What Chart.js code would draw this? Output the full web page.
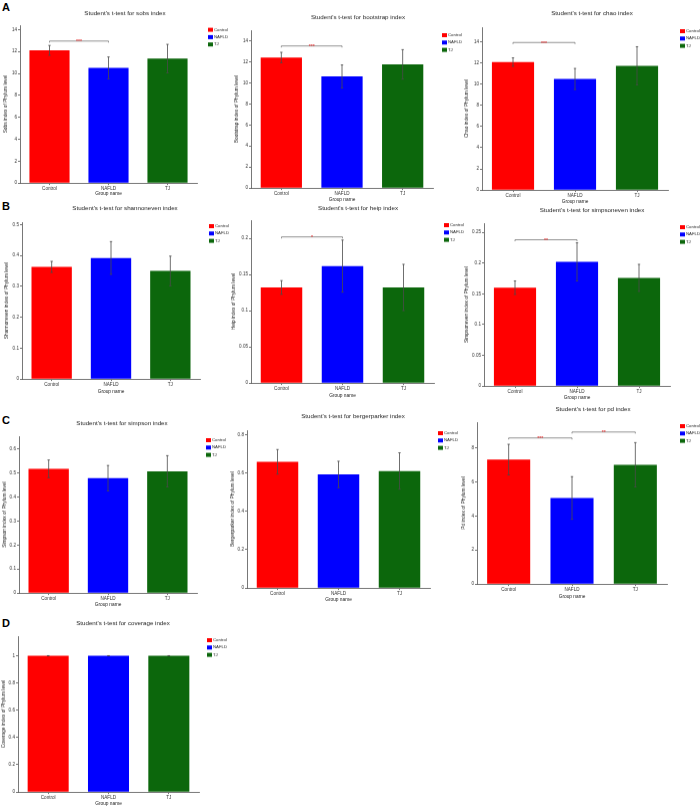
<!DOCTYPE html>
<html>
<head>
<meta charset="utf-8">
<script src="https://cdn.jsdelivr.net/npm/chart.js@4.4.1/dist/chart.umd.min.js"></script>
<style>
  body { margin: 0; background: #fff; width: 700px; height: 809px; position: relative; overflow: hidden;
         font-family: "Liberation Sans", Arial, sans-serif; }
  canvas { position: absolute; }
  .tag { position: absolute; font-weight: bold; font-size: 11px; line-height: 11px; color: #000; }
</style>
</head>
<body>
<div class="tag" style="left:2px;top:1.6px">A</div>
<div class="tag" style="left:2px;top:200.6px">B</div>
<div class="tag" style="left:2px;top:414.6px">C</div>
<div class="tag" style="left:2px;top:617.6px">D</div>
<script>
// alpha diversity, Student's t-test per index

const groups = ['Control', 'NAFLD', 'TJ'];
const indexNames = ['sobs', 'bootstrap', 'chao', 'shannoneven', 'heip',
                    'simpsoneven', 'simpson', 'bergerparker', 'pd', 'coverage'];
const yTitles = ['Sobs index of Phylum level', 'Bootstrap index of Phylum level',
                 'Chao index of Phylum level', 'Shannoneven index of Phylum level',
                 'Heip index of Phylum level', 'Simpsoneven index of Phylum level',
                 'Simpson index of Phylum level', 'Bergerparker index of Phylum level',
                 'Pd index of Phylum level', 'Coverage index of Phylum level'];

const controlMean = [12.1, 12.4, 12.1, 0.363, 0.132, 0.160, 0.517, 0.658, 7.3, 1.0];
const controlErr  = [0.45, 0.5, 0.4, 0.018, 0.0095, 0.011, 0.037, 0.064, 0.9, 0.0005];
const nafldMean   = [10.5, 10.6, 10.5, 0.392, 0.1615, 0.202, 0.478, 0.592, 5.05, 1.0];
const nafldErr    = [1.0, 1.1, 1.0, 0.053, 0.036, 0.031, 0.053, 0.069, 1.25, 0.0005];
const tjMean      = [11.35, 11.75, 11.75, 0.350, 0.132, 0.176, 0.507, 0.610, 7.0, 1.0];
const tjErr       = [1.3, 1.4, 1.8, 0.048, 0.032, 0.022, 0.065, 0.095, 1.3, 0.0005];

// y axis range and tick step
const yMax  = [14.4, 15.0, 15.4, 0.508, 0.225, 0.265, 0.653, 0.823, 9.5, 1.144];
const yStep = [2, 2, 2, 0.1, 0.05, 0.05, 0.1, 0.2, 2, 0.2];

// significance brackets
const sigIndex  = ['sobs', 'bootstrap', 'chao', 'heip', 'simpsoneven', 'pd', 'pd'];
const sigFrom   = [0, 0, 0, 0, 0, 0, 1];
const sigTo     = [1, 1, 1, 1, 1, 1, 2];
const sigHeight = [12.95, 13.5, 13.95, 0.2018, 0.238, 8.57, 8.92];
const sigStars  = ['***', '***', '***', '*', '**', '***', '**'];

const groupColors = ['#ff0000', '#0000ff', '#0c670c'];
const groupMeans = [controlMean, nafldMean, tjMean];
const groupErrs = [controlErr, nafldErr, tjErr];

// page layout of each panel (px)
const panelBoxes = [
  { L: 0,   T: 0,   axL: 20,  axT: 25,  axR: 197, axB: 183, titleX: 125, titleY: 13,  legX: 208, legY: 29.6, yTitleX: 6,   gap: 11 },
  { L: 230, T: 0,   axL: 251, axT: 30,  axR: 433, axB: 188, titleX: 358, titleY: 17,  legX: 442, legY: 35,   yTitleX: 237, gap: 12 },
  { L: 460, T: 0,   axL: 482, axT: 27,  axR: 668, axB: 190, titleX: 592, titleY: 13,  legX: 680, legY: 31,   yTitleX: 467, gap: 12 },
  { L: 0,   T: 200, axL: 22,  axT: 222, axR: 200, axB: 379, titleX: 125, titleY: 208, legX: 209, legY: 226,  yTitleX: 7,   gap: 13 },
  { L: 230, T: 200, axL: 251, axT: 220, axR: 434, axB: 383, titleX: 358, titleY: 208, legX: 444, legY: 225,  yTitleX: 234, gap: 13 },
  { L: 460, T: 200, axL: 484, axT: 223, axR: 670, axB: 386, titleX: 592, titleY: 210, legX: 680, legY: 227,  yTitleX: 467, gap: 12 },
  { L: 0,   T: 405, axL: 19,  axT: 436, axR: 197, axB: 593, titleX: 122, titleY: 423, legX: 206, legY: 440,  yTitleX: 5,   gap: 12 },
  { L: 230, T: 405, axL: 247, axT: 430, axR: 430, axB: 588, titleX: 353, titleY: 416, legX: 438, legY: 433,  yTitleX: 233, gap: 12 },
  { L: 460, T: 402, axL: 477, axT: 422, axR: 667, axB: 584, titleX: 593, titleY: 409, legX: 680, legY: 426,  yTitleX: 464, gap: 13 },
  { L: 0,   T: 612, axL: 18,  axT: 636, axR: 199, axB: 792, titleX: 123, titleY: 623, legX: 207, legY: 640,  yTitleX: 4,   gap: 12 }
];

const FONT = '"Liberation Sans", Arial, sans-serif';
const AXIS = '#555555';
Chart.defaults.font.family = FONT;
Chart.defaults.color = '#333';

// error bars, t-test brackets, panel title and legend
const decor = {
  id: 'decor',
  afterDatasetsDraw(chart, args, opts) {
    const k = opts.panel;
    const box = panelBoxes[k];
    const ctx = chart.ctx;
    const ys = chart.scales.y;
    const barX = gi => chart.getDatasetMeta(gi).data[gi].x;
    ctx.save();

    ctx.strokeStyle = '#4a4a4a';
    ctx.lineWidth = 0.8;
    groups.forEach((g, gi) => {
      const x = barX(gi);
      const m = groupMeans[gi][k], e = groupErrs[gi][k];
      const y1 = ys.getPixelForValue(m + e), y2 = ys.getPixelForValue(m - e);
      ctx.beginPath();
      ctx.moveTo(x, y1); ctx.lineTo(x, y2);
      ctx.moveTo(x - 1.2, y1); ctx.lineTo(x + 1.2, y1);
      ctx.moveTo(x - 1.2, y2); ctx.lineTo(x + 1.2, y2);
      ctx.stroke();
    });

    sigIndex.forEach((name, si) => {
      if (name !== indexNames[k]) return;
      const x1 = barX(sigFrom[si]), x2 = barX(sigTo[si]);
      const yy = ys.getPixelForValue(sigHeight[si]);
      ctx.strokeStyle = '#777';
      ctx.lineWidth = 0.8;
      ctx.beginPath();
      ctx.moveTo(x1, yy + 1.5); ctx.lineTo(x1, yy); ctx.lineTo(x2, yy); ctx.lineTo(x2, yy + 1.5);
      ctx.stroke();
      ctx.fillStyle = '#e01010';
      ctx.font = '5.2px ' + FONT;
      ctx.textAlign = 'center';
      ctx.textBaseline = 'alphabetic';
      ctx.fillText(sigStars[si], (x1 + x2) / 2, yy + 2.5);
    });

    ctx.fillStyle = '#222';
    ctx.font = '6.2px ' + FONT;
    ctx.textAlign = 'center';
    ctx.textBaseline = 'middle';
    ctx.fillText("Student's t-test for " + indexNames[k] + ' index', box.titleX - box.L, box.titleY - box.T);

    ctx.font = '4.3px ' + FONT;
    ctx.textAlign = 'left';
    chart.data.datasets.forEach((ds, gi) => {
      const cy = box.legY - box.T + gi * 7.3;
      ctx.fillStyle = ds.backgroundColor;
      ctx.fillRect(box.legX - box.L, cy - 2, 5, 4);
      ctx.fillStyle = '#222';
      ctx.fillText(ds.label, box.legX - box.L + 6, cy);
    });
    ctx.restore();
  }
};

const tickText = v => String(+Number(v).toFixed(4));

indexNames.forEach((name, k) => {
  const box = panelBoxes[k];
  const W = 240;
  const xh = box.gap + 2.9;
  const H = box.axB + xh + 2 - box.T;
  const cv = document.createElement('canvas');
  cv.width = W; cv.height = H;
  cv.style.left = box.L + 'px';
  cv.style.top = box.T + 'px';
  cv.style.width = W + 'px';
  cv.style.height = H + 'px';
  document.body.appendChild(cv);

  new Chart(cv, {
    type: 'bar',
    data: {
      labels: groups,
      datasets: groups.map((g, gi) => ({
        label: g,
        data: groups.map((_, j) => (j === gi ? groupMeans[gi][k] : null)),
        backgroundColor: groupColors[gi],
        borderWidth: 0,
        barPercentage: 0.68,
        categoryPercentage: 1,
        skipNull: true
      }))
    },
    options: {
      responsive: false,
      animation: false,
      layout: { padding: { left: 0, top: box.axT - box.T, right: box.L + W - box.axR, bottom: 2 } },
      plugins: {
        legend: { display: false },
        title: { display: false },
        tooltip: { enabled: false },
        decor: { panel: k }
      },
      scales: {
        x: {
          grid: { display: true, drawOnChartArea: false, drawTicks: true, tickLength: 2, offset: false,
                  color: AXIS, lineWidth: 0.8 },
          border: { display: true, color: AXIS, width: 0.8 },
          ticks: { font: { size: 4.6 }, padding: 1, color: '#333' },
          title: { display: true, text: 'Group name', font: { size: 4.8 }, color: '#222', padding: 0 },
          afterFit: s => { s.height = xh; }
        },
        y: {
          min: 0,
          max: yMax[k],
          grid: { display: true, drawOnChartArea: false, drawTicks: true, tickLength: 2,
                  color: AXIS, lineWidth: 0.8 },
          border: { display: true, color: AXIS, width: 0.8 },
          ticks: { stepSize: yStep[k], includeBounds: false, font: { size: 4.6 }, padding: 1, color: '#333',
                   callback: tickText },
          title: { display: true, text: yTitles[k], font: { size: 4.8 }, color: '#222',
                   padding: { top: Math.max(0, box.yTitleX - box.L - 2.9), bottom: 0 } },
          afterFit: s => { s.width = box.axL - box.L; }
        }
      }
    },
    plugins: [decor]
  });
});
</script>
</body>
</html>
